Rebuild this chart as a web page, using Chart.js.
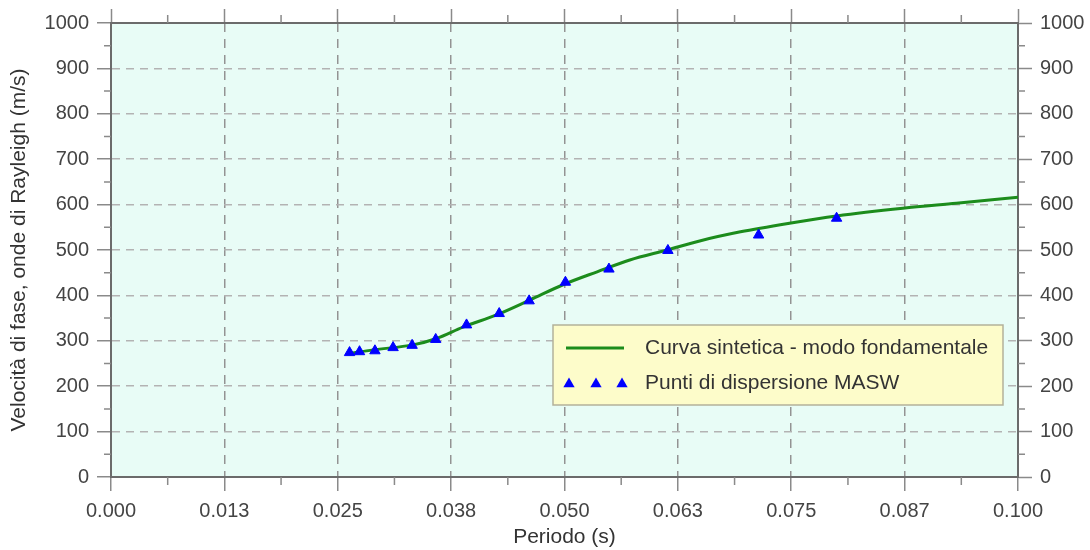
<!DOCTYPE html>
<html>
<head>
<meta charset="utf-8">
<script src="https://cdn.jsdelivr.net/npm/chart.js@4.4.1/dist/chart.umd.min.js"></script>
<style>
  html, body { margin: 0; padding: 0; background: #fff; }
  #wrap { width: 1090px; height: 550px; }
</style>
</head>
<body>
<div id="wrap"><canvas id="chart" width="1090" height="550"></canvas></div>
<script>
// curva sintetica - modo fondamentale (periodo s, velocita m/s)
const curvePeriod = [0.0263, 0.0289, 0.0333, 0.0359, 0.0388, 0.0425, 0.0462, 0.0499, 0.0536,
  0.0572, 0.0613, 0.0649, 0.0694, 0.0748, 0.0800, 0.0873, 0.0932, 0.1000];
const curveVel = [272, 280, 291, 305, 330, 357, 390, 424, 452,
  478, 500, 520, 540, 559, 575, 592, 603, 616];

// punti di dispersione MASW
const pointPeriod = [0.0263, 0.0274, 0.0291, 0.0311, 0.0332, 0.0358, 0.0392, 0.0428, 0.0461,
  0.0501, 0.0549, 0.0614, 0.0714, 0.0800];
const pointVel = [274, 276, 278, 285, 290, 303, 335, 360, 388, 429, 458, 499, 533, 570];

const xTickValues = [0, 0.0125, 0.025, 0.0375, 0.05, 0.0625, 0.075, 0.0875, 0.1];
const xTickLabels = ["0.000", "0.013", "0.025", "0.038", "0.050", "0.063", "0.075", "0.087", "0.100"];
const xMinorValues = [0.00625, 0.01875, 0.03125, 0.04375, 0.05625, 0.06875, 0.08125, 0.09375];
const yTickValues = [0, 100, 200, 300, 400, 500, 600, 700, 800, 900, 1000];
const yMinorValues = [50, 150, 250, 350, 450, 550, 650, 750, 850, 950];

const legendLabels = ["Curva sintetica - modo fondamentale", "Punti di dispersione MASW"];

const lineColor = "#1c8c1c";
const markColor = "#0000ff";
const tickMarkColor = "#8a8a8a";
const axisColor = "#6b6b6b";

Chart.defaults.font.family = '"Liberation Sans", Arial, sans-serif';

function triangle(ctx, x, y, r) {
  ctx.beginPath();
  ctx.moveTo(x, y - r);
  ctx.lineTo(x + r * Math.sin(2 * Math.PI / 3), y - r * Math.cos(2 * Math.PI / 3));
  ctx.lineTo(x + r * Math.sin(4 * Math.PI / 3), y - r * Math.cos(4 * Math.PI / 3));
  ctx.closePath();
  ctx.fill();
}

// sfondo area del grafico
const plotBackground = {
  id: "plotBackground",
  beforeDraw(chart) {
    const { ctx, chartArea: a } = chart;
    ctx.save();
    ctx.fillStyle = "#e8fcf6";
    ctx.fillRect(a.left, a.top, a.right - a.left, a.bottom - a.top);
    ctx.restore();
  },
};

// tacche secondarie sui quattro lati
const minorTicks = {
  id: "minorTicks",
  afterDraw(chart) {
    const { ctx, chartArea: a, scales } = chart;
    ctx.save();
    ctx.strokeStyle = tickMarkColor;
    ctx.lineWidth = 1.5;
    ctx.beginPath();
    xMinorValues.forEach((v) => {
      const px = scales.x.getPixelForValue(v);
      ctx.moveTo(px, a.bottom);
      ctx.lineTo(px, a.bottom + 8);
      ctx.moveTo(px, a.top);
      ctx.lineTo(px, a.top - 8);
    });
    yMinorValues.forEach((v) => {
      const py = scales.y.getPixelForValue(v);
      ctx.moveTo(a.left, py);
      ctx.lineTo(a.left - 7, py);
      ctx.moveTo(a.right, py);
      ctx.lineTo(a.right + 7, py);
    });
    ctx.stroke();
    ctx.restore();
  },
};

// legenda dentro il grafico
const boxLegend = {
  id: "boxLegend",
  afterDraw(chart) {
    const { ctx, chartArea: a } = chart;
    const w = 450, h = 80;
    const left = a.right - 15 - w;
    const top = a.bottom - 72 - h;
    ctx.save();
    ctx.fillStyle = "#fdfcca";
    ctx.strokeStyle = "#b3b19a";
    ctx.lineWidth = 1.5;
    ctx.fillRect(left, top, w, h);
    ctx.strokeRect(left, top, w, h);

    ctx.strokeStyle = lineColor;
    ctx.lineWidth = 3;
    ctx.beginPath();
    ctx.moveTo(left + 13, top + 23);
    ctx.lineTo(left + 71, top + 23);
    ctx.stroke();

    ctx.fillStyle = markColor;
    [16, 43, 69].forEach((dx) => triangle(ctx, left + dx, top + 59, 6.5));

    ctx.fillStyle = "#333";
    ctx.font = '21px "Liberation Sans", Arial, sans-serif';
    ctx.textBaseline = "middle";
    ctx.fillText(legendLabels[0], left + 92, top + 23);
    ctx.fillText(legendLabels[1], left + 92, top + 58);
    ctx.restore();
  },
};

const tickFont = { size: 20 };
const setXTicks = (s) => { s.ticks = xTickValues.map((v) => ({ value: v })); };
const setYTicks = (s) => { s.ticks = yTickValues.map((v) => ({ value: v })); };

new Chart(document.getElementById("chart"), {
  type: "scatter",
  data: {
    datasets: [
      {
        label: legendLabels[1],
        data: pointPeriod.map((x, i) => ({ x, y: pointVel[i] })),
        pointStyle: "triangle",
        pointRadius: 6,
        pointBackgroundColor: markColor,
        pointBorderColor: markColor,
        pointBorderWidth: 1,
        showLine: false,
        order: 0,
      },
      {
        label: legendLabels[0],
        type: "line",
        data: curvePeriod.map((x, i) => ({ x, y: curveVel[i] })),
        borderColor: lineColor,
        borderWidth: 3,
        pointRadius: 0,
        fill: false,
        cubicInterpolationMode: "monotone",
        order: 1,
      },
    ],
  },
  options: {
    responsive: false,
    animation: false,
    layout: { padding: 0 },
    plugins: {
      legend: { display: false },
      tooltip: { enabled: false },
    },
    scales: {
      x: {
        type: "linear",
        position: "bottom",
        min: 0,
        max: 0.1,
        afterBuildTicks: setXTicks,
        afterFit: (s) => { s.height = 73; },
        ticks: {
          color: "#444",
          font: tickFont,
          padding: 8,
          maxRotation: 0,
          autoSkip: false,
          callback: (v, i) => xTickLabels[i],
        },
        grid: {
          color: "#939393",
          lineWidth: 1.5,
          tickLength: 14,
          tickColor: tickMarkColor,
          tickWidth: 1.5,
          tickBorderDash: [],
        },
        border: { color: axisColor, width: 2, dash: [9, 7] },
        title: {
          display: true,
          text: "Periodo (s)",
          color: "#333",
          font: { size: 21 },
          padding: 0,
        },
      },
      x2: {
        type: "linear",
        axis: "x",
        position: "top",
        min: 0,
        max: 0.1,
        afterBuildTicks: setXTicks,
        afterFit: (s) => { s.height = 23; },
        ticks: { display: false },
        grid: {
          drawOnChartArea: false,
          tickLength: 14,
          tickColor: tickMarkColor,
          tickWidth: 1.5,
        },
        border: { color: axisColor, width: 2 },
      },
      y: {
        type: "linear",
        position: "left",
        min: 0,
        max: 1000,
        afterBuildTicks: setYTicks,
        afterFit: (s) => { s.width = 111; },
        ticks: { color: "#444", font: tickFont, padding: 8, callback: (v) => String(v) },
        grid: {
          color: "#b3b3b3",
          lineWidth: 1.5,
          tickLength: 14,
          tickColor: tickMarkColor,
          tickWidth: 1.5,
          tickBorderDash: [],
        },
        border: { color: axisColor, width: 2, dash: [8, 6] },
        title: {
          display: true,
          text: "Velocità di fase, onde di Rayleigh (m/s)",
          color: "#333",
          font: { size: 21 },
          padding: { top: 7, bottom: 0 },
        },
      },
      y2: {
        type: "linear",
        axis: "y",
        position: "right",
        min: 0,
        max: 1000,
        afterBuildTicks: setYTicks,
        afterFit: (s) => { s.width = 72; },
        ticks: { color: "#444", font: tickFont, padding: 8, callback: (v) => String(v) },
        grid: {
          drawOnChartArea: false,
          tickLength: 14,
          tickColor: tickMarkColor,
          tickWidth: 1.5,
        },
        border: { color: axisColor, width: 2 },
      },
    },
  },
  plugins: [plotBackground, minorTicks, boxLegend],
});
</script>
</body>
</html>
